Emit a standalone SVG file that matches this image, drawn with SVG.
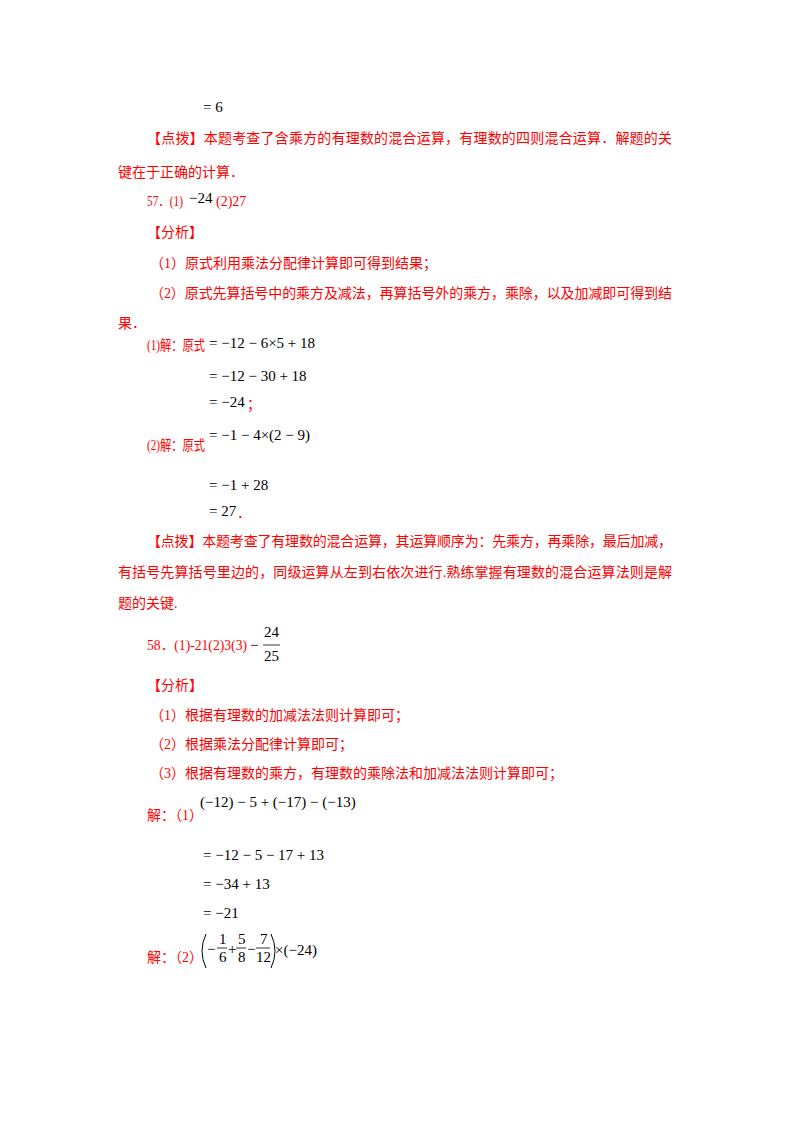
<svg xmlns="http://www.w3.org/2000/svg" width="800" height="1132" viewBox="0 0 800 1132">
<style>
.r{fill:#ff0000;font-family:"Liberation Serif","Noto Sans CJK SC",serif;font-size:14px}
.m{fill:#000;font-family:"Liberation Serif",serif;font-size:15px}
.mr{fill:#ff0000;font-family:"Liberation Serif","Noto Sans CJK SC",serif;font-size:14px}
</style>
<rect width="800" height="1132" fill="#fff"/>
<text class="m" x="203" y="112">= 6</text>
<text class="r" x="147" y="143" textLength="525" lengthAdjust="spacing">【点拨】本题考查了含乘方的有理数的混合运算，有理数的四则混合运算．解题的关</text>
<text class="r" x="118" y="177">键在于正确的计算．</text>
<text class="mr" x="147" y="206" textLength="36" lengthAdjust="spacingAndGlyphs">57．(1)</text><text class="m" x="189" y="203" font-size="16">−24</text><text class="mr" x="216" y="206">(2)27</text>
<text class="r" x="147" y="237">【分析】</text>
<text class="r" x="150" y="268">（1）原式利用乘法分配律计算即可得到结果；</text>
<text class="r" x="150" y="298" textLength="522" lengthAdjust="spacing">（2）原式先算括号中的乘方及减法，再算括号外的乘方，乘除，以及加减即可得到结</text>
<text class="r" x="118" y="328">果．</text>
<text class="mr" x="147" y="350" textLength="58" lengthAdjust="spacingAndGlyphs">(1)解：原式</text>
<text class="m" x="209" y="348">= −12 − 6×5 + 18</text>
<text class="m" x="209" y="381">= −12 − 30 + 18</text>
<text class="m" x="209" y="407">= −24</text><text class="mr" x="247" y="409">；</text>
<text class="m" x="209" y="440">= −1 − 4×(2 − 9)</text>
<text class="mr" x="147" y="450" textLength="58" lengthAdjust="spacingAndGlyphs">(2)解：原式</text>
<text class="m" x="209" y="490">= −1 + 28</text>
<text class="m" x="209" y="516">= 27</text><text class="mr" x="237" y="518">．</text>
<text class="r" x="147" y="546" textLength="525" lengthAdjust="spacing">【点拨】本题考查了有理数的混合运算，其运算顺序为：先乘方，再乘除，最后加减，</text>
<text class="r" x="118" y="577" textLength="554" lengthAdjust="spacing">有括号先算括号里边的，同级运算从左到右依次进行.熟练掌握有理数的混合运算法则是解</text>
<text class="r" x="118" y="608">题的关键.</text>
<text class="mr" x="147" y="650" textLength="100" lengthAdjust="spacingAndGlyphs">58．(1)-21(2)3(3)</text>
<text class="m" x="250" y="650">−</text>
<text class="m" x="264" y="637">24</text>
<line x1="263" y1="645" x2="280" y2="645" stroke="#000" stroke-width="0.8"/>
<text class="m" x="264" y="661">25</text>
<text class="r" x="147" y="690">【分析】</text>
<text class="r" x="150" y="720">（1）根据有理数的加减法法则计算即可；</text>
<text class="r" x="150" y="749">（2）根据乘法分配律计算即可；</text>
<text class="r" x="150" y="778">（3）根据有理数的乘方，有理数的乘除法和加减法法则计算即可；</text>
<text class="m" x="200" y="807">(−12) − 5 + (−17) − (−13)</text>
<text class="r" x="147" y="820">解：（1）</text>
<text class="m" x="203" y="860">= −12 − 5 − 17 + 13</text>
<text class="m" x="203" y="889">= −34 + 13</text>
<text class="m" x="203" y="918">= −21</text>
<text class="r" x="147" y="962">解：（2）</text>
<path d="M206 934 Q198 951 206 968" fill="none" stroke="#000" stroke-width="1"/>
<text class="m" x="207" y="954">−</text>
<text class="m" x="219" y="944" font-size="13">1</text><line x1="217" y1="948" x2="227" y2="948" stroke="#000" stroke-width="0.8"/><text class="m" x="219" y="962" font-size="13">6</text>
<text class="m" x="228" y="954">+</text>
<text class="m" x="238" y="944" font-size="13">5</text><line x1="236" y1="948" x2="246" y2="948" stroke="#000" stroke-width="0.8"/><text class="m" x="238" y="962" font-size="13">8</text>
<text class="m" x="247" y="954">−</text>
<text class="m" x="260" y="944" font-size="13">7</text><line x1="256" y1="948" x2="270" y2="948" stroke="#000" stroke-width="0.8"/><text class="m" x="256" y="962" font-size="13">12</text>
<path d="M271 934 Q279 951 271 968" fill="none" stroke="#000" stroke-width="1"/>
<text class="m" x="275" y="955">×(−24)</text>
</svg>
